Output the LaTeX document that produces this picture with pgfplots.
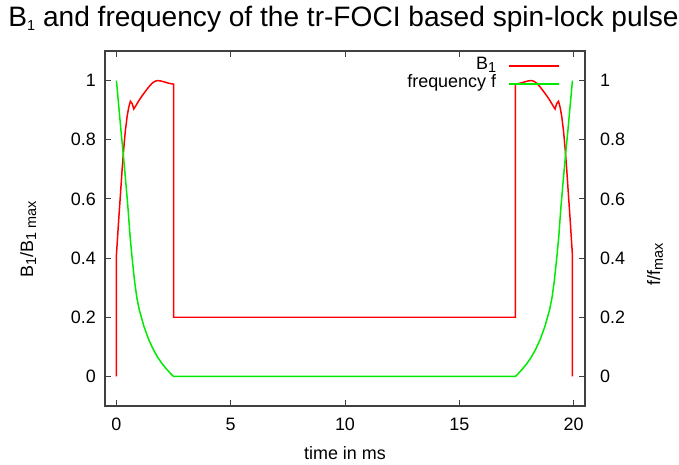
\documentclass[border=0pt]{standalone}
\usepackage{fontspec}
\setmainfont{Liberation Sans}
\usepackage{pgfplots}
\pgfplotsset{compat=1.18}
\definecolor{gpred}{RGB}{255,0,0}
\definecolor{gpgreen}{RGB}{0,235,0}
\newcommand{\sub}[1]{\raisebox{-0.3ex}{\fontsize{14.5}{16}\selectfont #1}}
\begin{document}
\begin{tikzpicture}
\pgfplotsset{
  every axis/.append style={
    /pgf/number format/assume math mode=true,
    font=\fontsize{18}{21}\selectfont,
    scale only axis, width=480bp, height=355bp,
    xmin=-0.5, xmax=20.5, ymin=-0.1, ymax=1.1,
    axis line style={line width=1.1pt, black!75},
    tick style={line width=1pt, black!75},
    major tick length=6bp,
    tick align=inside,
    yticklabel style={inner sep=0pt, xshift=-9bp},
    xticklabel style={inner sep=0pt, yshift=-12bp},
  }
}
\path[use as bounding box] (-105bp,-59bp) rectangle (574bp,406bp);
\begin{axis}[
  at={(0,0)}, anchor=south west,
  xtick={0,5,10,15,20},
  ytick={0,0.2,0.4,0.6,0.8,1},
  yticklabels={0,0.2,0.4,0.6,0.8,1},
  ytick pos=left,
  xtick pos=both,
  xlabel={time in ms},
  ylabel={B\sub{1}/B\sub{1 max}},
  xlabel style={at={(axis description cs:0.5,-0.132)}, anchor=center},
  ylabel style={at={(axis description cs:-0.16,0.47)}, anchor=center},
  title={B\sub{1} and frequency of the tr-FOCI based spin-lock pulse},
  title style={font=\fontsize{28.2}{32}\selectfont, at={(axis description cs:0.497,1.074)}, anchor=center},
  legend style={at={(axis description cs:1,1)}, anchor=north east, xshift=-25bp, yshift=-6bp,
    draw=none, fill=none, inner sep=0pt, font=\fontsize{18}{21}\selectfont, row sep=0pt,
    nodes={inner sep=0pt, text height=12bp, text depth=6bp}},
  legend cell align=right,
  legend plot pos=right,
  legend image code/.code={\path[draw=none] (0bp,0bp) -- (13bp,0bp); \draw[#1] (13bp,0bp) -- (63bp,0bp);},
]
\addplot[gpred, line width=1.5pt] coordinates {
(0,0) (0,0.41) (0.05,0.47) (0.1,0.53) (0.18,0.62) (0.25,0.70) (0.32,0.77) (0.39,0.83) (0.47,0.88) (0.54,0.91) (0.61,0.93) (0.69,0.922) (0.76,0.904) (0.85,0.915) (0.98,0.932) (1.1,0.946) (1.27,0.964) (1.42,0.979) (1.56,0.991) (1.67,0.997) (1.78,1.0) (1.92,0.999) (2.07,0.996) (2.29,0.991) (2.5,0.988) (2.5,0.2)
(17.45,0.2) (17.45,0.988) (17.66,0.991) (17.88,0.996) (18.03,0.999) (18.17,1.0) (18.28,0.997) (18.39,0.991) (18.53,0.979) (18.68,0.964) (18.85,0.946) (18.97,0.932) (19.10,0.915) (19.19,0.904) (19.26,0.922) (19.34,0.93) (19.41,0.91) (19.48,0.88) (19.56,0.83) (19.63,0.77) (19.70,0.70) (19.77,0.62) (19.85,0.53) (19.90,0.47) (19.95,0.41) (19.95,0)
};
\addlegendentry{B\sub{1}}
\addplot[gpgreen, line width=1.5pt] coordinates {
(0,1.0) (0.1,0.915) (0.2,0.83) (0.3,0.75) (0.4,0.665) (0.5,0.575) (0.6,0.47) (0.7,0.39) (0.8,0.318) (0.9,0.263) (1.0,0.225) (1.2,0.17) (1.4,0.127) (1.6,0.093) (1.8,0.065) (2.0,0.043) (2.2,0.024) (2.4,0.007) (2.5,0)
(17.45,0) (17.55,0.007) (17.75,0.024) (17.95,0.043) (18.15,0.065) (18.35,0.093) (18.55,0.127) (18.75,0.17) (18.95,0.225) (19.05,0.263) (19.15,0.318) (19.25,0.39) (19.35,0.47) (19.45,0.575) (19.55,0.665) (19.65,0.75) (19.75,0.83) (19.85,0.915) (19.95,1.0)
};
\addlegendentry{frequency f}
\end{axis}
\begin{axis}[
  at={(0,0)}, anchor=south west,
  axis x line=none,
  axis y line*=right,
  ytick={0,0.2,0.4,0.6,0.8,1},
  yticklabels={0,0.2,0.4,0.6,0.8,1},
  yticklabel style={xshift=24bp, anchor=west},
  ylabel={f/f\sub{max}},
  ylabel style={at={(axis description cs:1.146,0.40)}, anchor=center},
]
\addplot[draw=none] coordinates {(0,0)};
\end{axis}
\end{tikzpicture}
\end{document}
